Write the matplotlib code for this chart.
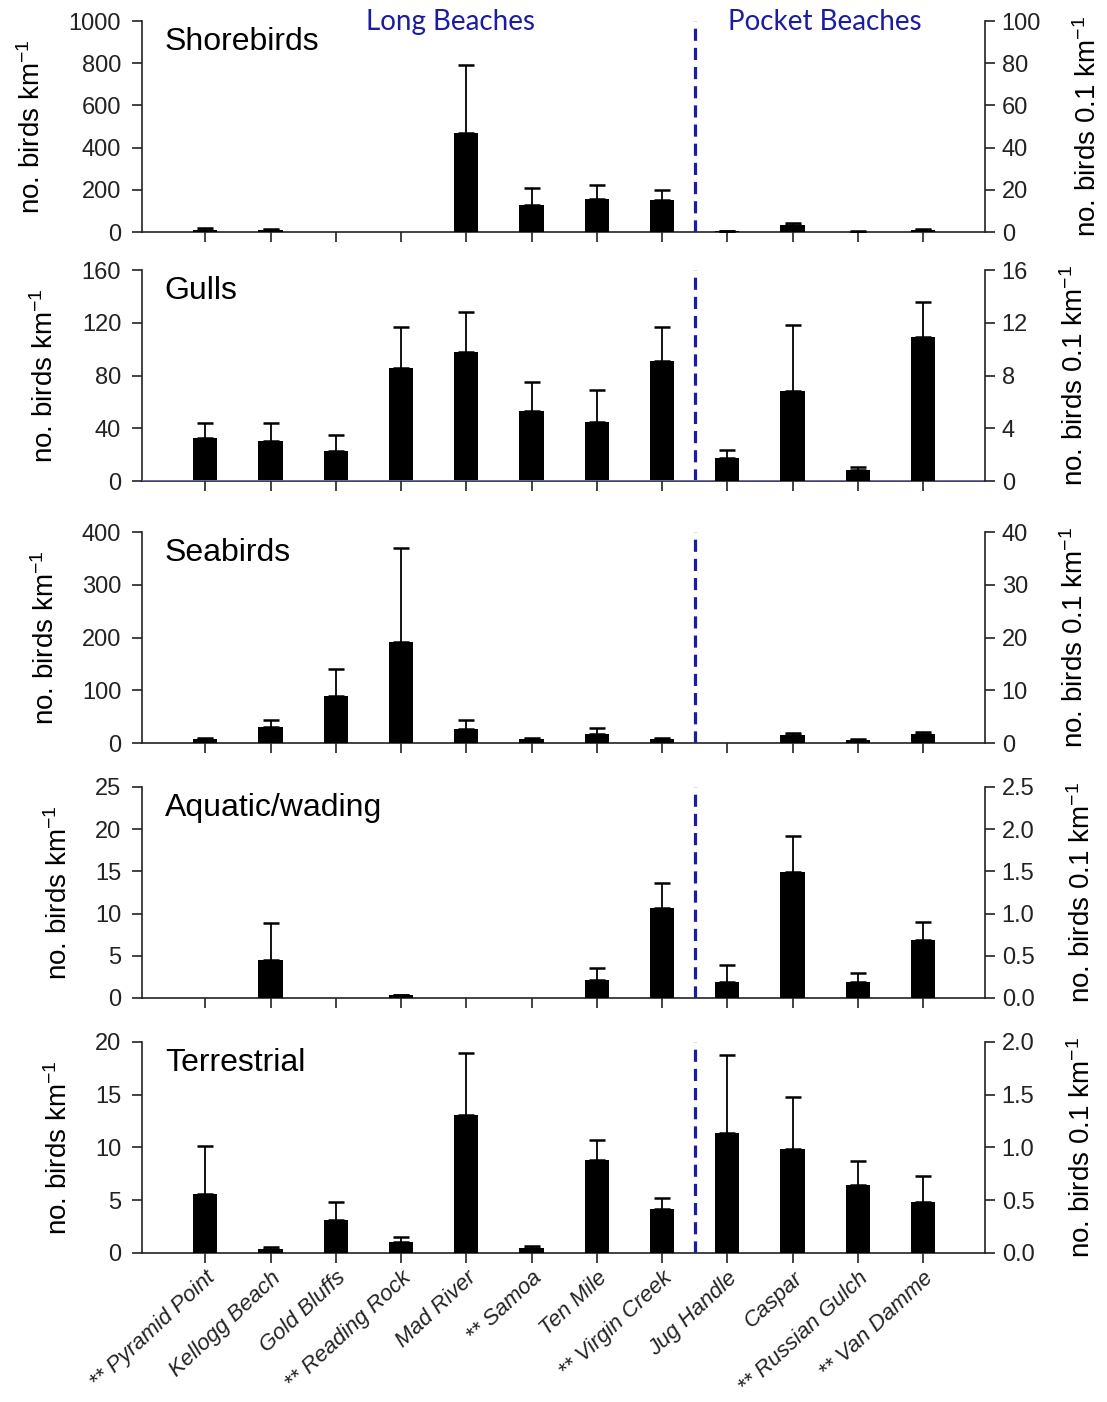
import numpy as np
import matplotlib
matplotlib.use("Agg")
import matplotlib.pyplot as plt

plt.rcParams['font.family'] = ['Liberation Sans', 'DejaVu Sans']
plt.rcParams['mathtext.fontset'] = 'custom'
plt.rcParams['mathtext.rm'] = 'Liberation Sans'
plt.rcParams['mathtext.default'] = 'regular'

# ── site names (8 long beaches, then 4 pocket beaches)
sites = ['** Pyramid Point', 'Kellogg Beach', 'Gold Bluffs', '** Reading Rock',
         'Mad River', '** Samoa', 'Ten Mile', '** Virgin Creek',
         'Jug Handle', 'Caspar', '** Russian Gulch', '** Van Damme']
n_long = 8

# ── values: long beaches in birds/km, pocket beaches in birds/0.1 km
shore_mean = [10, 10, 0, 0, 470, 130, 157, 153, 0.3, 3.2, 0.2, 1.0]
shore_err  = [8, 5, 0, 0, 320, 80, 68, 47, 0.2, 1.0, 0.2, 0.6]

gull_mean = [33, 30, 23, 86, 98, 53, 45, 91, 1.75, 6.8, 0.8, 10.9]
gull_err  = [11, 14, 12, 31, 30, 22, 24, 26, 0.6, 5.0, 0.25, 2.7]

sea_mean = [8, 30, 90, 191, 26, 8, 18, 8, 0, 1.5, 0.6, 1.7]
sea_err  = [2, 14, 51, 179, 17, 1.5, 10, 1.5, 0, 0.45, 0.2, 0.4]

aqua_mean = [0, 4.5, 0, 0.3, 0, 0, 2.1, 10.7, 0.19, 1.49, 0.19, 0.69]
aqua_err  = [0, 4.4, 0, 0.05, 0, 0, 1.4, 2.9, 0.2, 0.43, 0.11, 0.21]

terr_mean = [5.6, 0.35, 3.1, 1.0, 13.1, 0.47, 8.8, 4.15, 1.14, 0.99, 0.64, 0.48]
terr_err  = [4.5, 0.2, 1.7, 0.5, 5.9, 0.22, 1.95, 1.05, 0.74, 0.49, 0.23, 0.25]

panels = [
    ('Shorebirds', shore_mean, shore_err, 1000, 200),
    ('Gulls', gull_mean, gull_err, 160, 40),
    ('Seabirds', sea_mean, sea_err, 400, 100),
    ('Aquatic/wading', aqua_mean, aqua_err, 25, 5),
    ('Terrestrial', terr_mean, terr_err, 20, 5),
]

fig = plt.figure(figsize=(11.07, 14.02), dpi=100)

left, width, height = 0.1283, 0.7615, 0.1505
bottoms = [0.8345, 0.6569, 0.4700, 0.2882, 0.1063]
x = np.arange(len(sites))
blue = '#1c1ca0'

for i, (name, mean, err, top, step) in enumerate(panels):
    ax = fig.add_axes([left, bottoms[i], width, height])
    ax2 = ax.twinx()
    mean = np.array(mean, dtype=float)
    err = np.array(err, dtype=float)

    # long beaches on the left scale, pocket beaches on the right scale
    for a, sl in ((ax, slice(0, n_long)), (ax2, slice(n_long, None))):
        xs, ms, es = x[sl], mean[sl], err[sl]
        a.bar(xs, ms, width=0.37, color='black', zorder=3)
        keep = es > 0
        a.errorbar(xs[keep], ms[keep], yerr=[np.zeros(keep.sum()), es[keep]],
                   fmt='none', ecolor='black', elinewidth=1.3, capsize=6,
                   capthick=1.8, zorder=2)

    ax.set_xlim(-0.97, 11.95)
    ax.set_ylim(0, top)
    ax2.set_ylim(0, top / 10)
    ax.set_yticks(np.arange(0, top + step / 2, step))
    ax2.set_yticks(np.arange(0, top + step / 2, step) / 10)
    if top in (25, 20):
        ax2.yaxis.set_major_formatter(matplotlib.ticker.FormatStrFormatter('%.1f'))

    ax.spines['top'].set_visible(False)
    ax2.spines['top'].set_visible(False)
    ax.spines['right'].set_visible(False)
    ax2.spines['left'].set_visible(False)
    ax2.spines['bottom'].set_visible(False)
    for a in (ax, ax2):
        for sp in a.spines.values():
            sp.set_linewidth(1.2)
            sp.set_color('#222222')
        a.tick_params(axis='both', direction='out', length=7, width=1.2,
                      labelsize=17, colors='#222222')
    ax.tick_params(axis='y', pad=8)
    ax2.tick_params(axis='y', pad=5)

    ax.set_xticks(x)
    if i == len(panels) - 1:
        ax.set_xticklabels(sites, rotation=43, ha='right', rotation_mode='anchor',
                           fontsize=16, style='italic')
    else:
        ax.set_xticklabels([])

    ax.set_ylabel('no. birds km$^{-1}$', fontsize=20, labelpad=16)
    ax2.set_ylabel('no. birds 0.1 km$^{-1}$', fontsize=20, labelpad=24)

    ax.axvline(n_long - 0.5, color=blue, lw=2.3, ls=(0, (3.8, 2.2)), zorder=4)
    if name == 'Gulls':
        ax.axhline(0, color='#6a6ad8', lw=1.3, zorder=5)

    ax.text(-0.62, top * 0.9, name, fontsize=23, va='center', ha='left')

fig.text(451 / 1107, 1 - 22 / 1402, 'Long Beaches', color=blue, fontsize=20,
         ha='center', va='center', family=['Lato', 'DejaVu Sans'])
fig.text(825 / 1107, 1 - 22 / 1402, 'Pocket Beaches', color=blue, fontsize=20,
         ha='center', va='center', family=['Lato', 'DejaVu Sans'])

fig.savefig('out.png', dpi=100)
